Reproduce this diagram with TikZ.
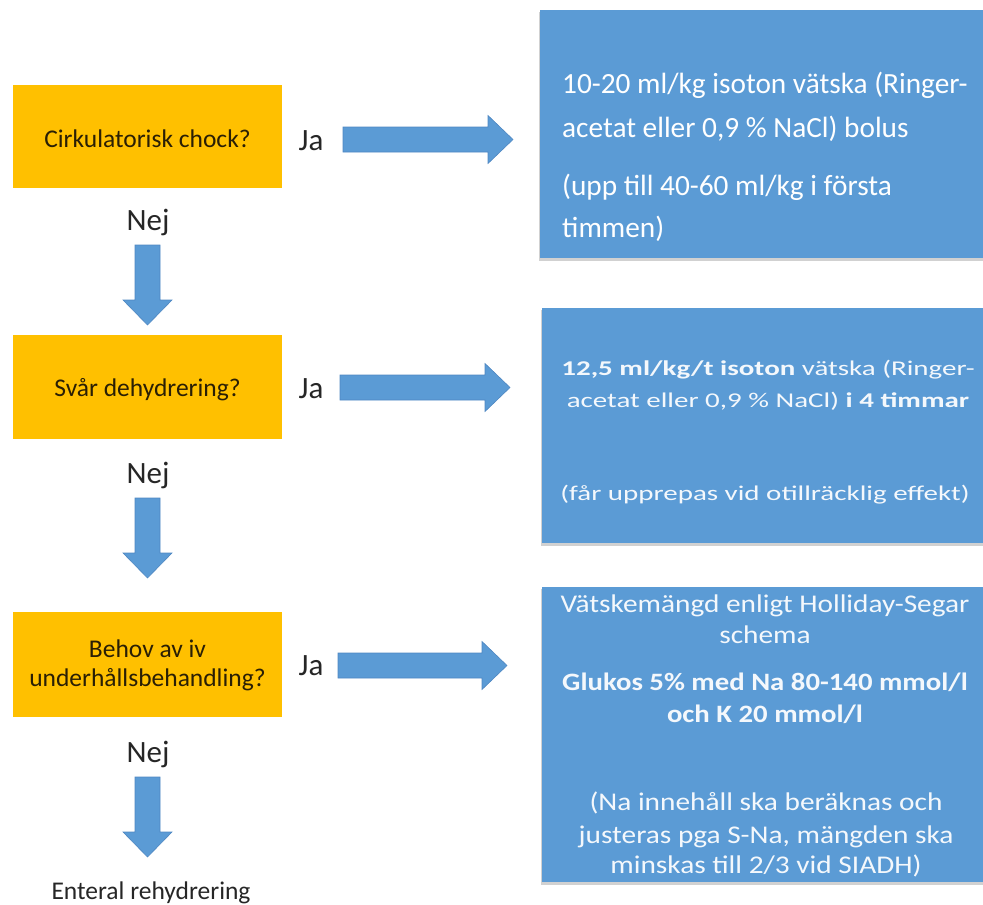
\documentclass[tikz,border=0pt]{standalone}
\usepackage{fontspec}
\setmainfont{Carlito}
\newfontfamily\stretchfont[FakeStretch=1.38]{Carlito}
\newfontfamily\widefont[FakeStretch=1.15]{Carlito}
\usetikzlibrary{calc}
\definecolor{qorange}{HTML}{FFC000}
\definecolor{qblue}{HTML}{5B9BD5}
\definecolor{qedge}{HTML}{4F87C2}
\definecolor{qtext}{HTML}{2A1F05}
\definecolor{qwhite}{HTML}{F4F8FC}
\newcommand{\barrowR}[2]{\draw[barrow] let \p1=(#1), \p2=(#2) in
  (\x1,\y1+12.5pt) -- (\x2-25pt,\y1+12.5pt) -- (\x2-25pt,\y1+24pt) -- (\x2,\y1)
  -- (\x2-25pt,\y1-24pt) -- (\x2-25pt,\y1-12.5pt) -- (\x1,\y1-12.5pt) -- cycle;}
\newcommand{\barrowD}[2]{\draw[barrow] let \p1=(#1), \p2=(#2) in
  (\x1-12.5pt,\y1) -- (\x1-12.5pt,\y2+25pt) -- (\x1-24.5pt,\y2+25pt) -- (\x1,\y2)
  -- (\x1+24.5pt,\y2+25pt) -- (\x1+12.5pt,\y2+25pt) -- (\x1+12.5pt,\y1) -- cycle;}
\tikzset{
  qbox/.style={fill=qorange, draw=none, minimum width=269pt, inner sep=0pt},
  tbox/.style={fill=qblue, draw=none, inner sep=0pt},
  shadowbox/.style={fill=black!18, draw=none},
  barrow/.style={fill=qblue, draw=qedge, line width=0.6pt},
  qlabel/.style={font=\fontsize{25.5}{30}\selectfont, text=qtext, inner sep=0pt, anchor=base},
  yn/.style={font=\fontsize{31}{36}\selectfont, text=black!85, inner sep=0pt, anchor=base},
  t1/.style={font=\fontsize{29.3}{35}\selectfont, text=white, inner sep=0pt, anchor=base west},
  t2/.style={font=\stretchfont\fontsize{21}{25}\selectfont, text=qwhite, inner sep=0pt, anchor=base},
  t3/.style={font=\widefont\fontsize{25.5}{30}\selectfont, text=qwhite, inner sep=0pt, anchor=base},
  t3b/.style={t3, font=\widefont\bfseries\fontsize{25}{30}\selectfont},
}
\begin{document}
\begin{tikzpicture}[x=1pt,y=-1pt]
\useasboundingbox (0,0) rectangle (983,905);
% blue boxes with shadows
\fill[shadowbox] (539,12) rectangle (983,261);
\fill[shadowbox] (541,310) rectangle (983,546);
\fill[shadowbox] (541,589) rectangle (983,885);
\node[tbox, minimum width=443pt, minimum height=248pt] (b1) at (761.5,134) {};
\node[tbox, minimum width=441pt, minimum height=235pt] (b2) at (762.5,425.5) {};
\node[tbox, minimum width=441pt, minimum height=295pt] (b3) at (762.5,734.5) {};
% orange boxes
\node[qbox, minimum height=103pt] (q1) at (147.5,136.5) {};
\node[qbox, minimum height=104pt] (q2) at (147.5,387) {};
\node[qbox, minimum height=105pt] (q3) at (147.5,664.5) {};
\node[qlabel] (q1t) at (147.5,147) {Cirkulatorisk chock?};
\node[qlabel] (q2t) at (147.5,396) {Svår dehydrering?};
\node[qlabel] (q3ta) at (147.5,657) {Behov av iv};
\node[qlabel] (q3tb) at (147.5,686) {underhållsbehandling?};
% Ja / Nej labels
\node[yn] (ja1) at (311,150) {Ja};
\node[yn] (ja2) at (311,398) {Ja};
\node[yn] (ja3) at (311,675) {Ja};
\node[yn] (nej1) at (148,230) {Nej};
\node[yn] (nej2) at (148,483) {Nej};
\node[yn] (nej3) at (148,762) {Nej};
\node[font=\fontsize{25.5}{30}\selectfont, text=black!85, inner sep=0pt, anchor=base] (ent) at (151,899) {Enteral rehydrering};
% arrow end coordinates
\coordinate (r1s) at (343,139.5); \coordinate (r1e) at (513,139.5);
\coordinate (r2s) at (340,387.5); \coordinate (r2e) at (510,387.5);
\coordinate (r3s) at (338,665.5); \coordinate (r3e) at (507,665.5);
\coordinate (d1s) at (147.5,245); \coordinate (d1e) at (147.5,325);
\coordinate (d2s) at (147.5,498); \coordinate (d2e) at (147.5,578);
\coordinate (d3s) at (147.5,777); \coordinate (d3e) at (147.5,857);
\barrowR{r1s}{r1e}
\barrowR{r2s}{r2e}
\barrowR{r3s}{r3e}
\barrowD{d1s}{d1e}
\barrowD{d2s}{d2e}
\barrowD{d3s}{d3e}
% box 1 text
\node[t1] (b1l1) at (562,93) {10-20 ml/kg isoton vätska (Ringer-};
\node[t1] (b1l2) at (562,137) {acetat eller 0,9 \% NaCl) bolus};
\node[t1] (b1l3) at (562,195) {(upp till 40-60 ml/kg i första};
\node[t1] (b1l4) at (562,237) {timmen)};
% box 2 text
\node[t2] (b2l1) at (768,375) {\textbf{12,5 ml/kg/t isoton} vätska (Ringer-};
\node[t2] (b2l2) at (768,407) {acetat eller 0,9 \% NaCl) \textbf{i 4 timmar}};
\node[t2] (b2l3) at (765,500) {(får upprepas vid otillräcklig effekt)};
% box 3 text
\node[t3] (b3l1) at (765,612) {Vätskemängd enligt Holliday-Segar};
\node[t3] (b3l2) at (765,643) {schema};
\node[t3b] (b3l3) at (765,690) {Glukos 5\% med Na 80-140 mmol/l};
\node[t3b] (b3l4) at (765,722) {och K 20 mmol/l};
\node[t3] (b3l5) at (766,810) {(Na innehåll ska beräknas och};
\node[t3] (b3l6) at (766,843) {justeras pga S-Na, mängden ska};
\node[t3] (b3l7) at (766,873) {minskas till 2/3 vid SIADH)};
\end{tikzpicture}
\end{document}
